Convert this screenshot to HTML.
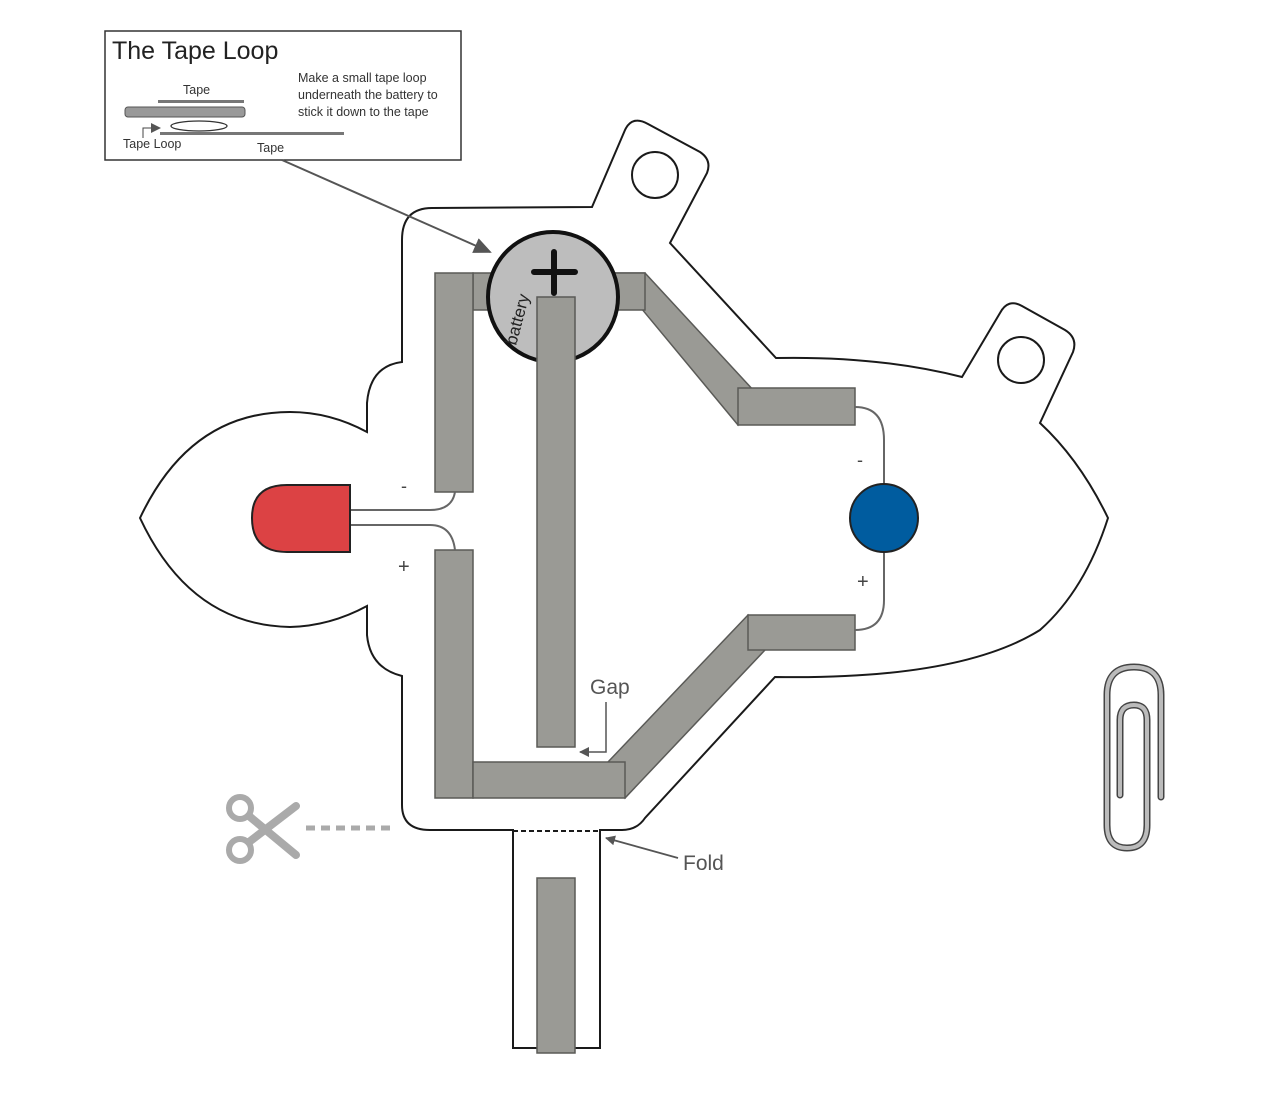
<!DOCTYPE html>
<html><head><meta charset="utf-8"><style>
html,body{margin:0;padding:0;background:#fff;}
svg{display:block;}
text{font-family:"Liberation Sans",sans-serif;}
</style></head><body>
<svg width="1280" height="1094" viewBox="0 0 1280 1094" xmlns="http://www.w3.org/2000/svg">
<defs>
<marker id="ah" markerWidth="10" markerHeight="10" refX="9" refY="5" orient="auto" markerUnits="userSpaceOnUse"><path d="M0,0 L10,5 L0,10 z" fill="#555"/></marker>
<marker id="ahb" markerWidth="18" markerHeight="16" refX="16" refY="8" orient="auto" markerUnits="userSpaceOnUse"><path d="M0,0 L18,8 L0,16 z" fill="#555"/></marker>
</defs>
<rect x="105" y="31" width="356" height="129" fill="#fff" stroke="#333" stroke-width="1.5"/>
<text x="112" y="59" font-size="25" fill="#222">The Tape Loop</text>
<text x="298" y="82" font-size="12.5" fill="#333">Make a small tape loop</text>
<text x="298" y="99" font-size="12.5" fill="#333">underneath the battery to</text>
<text x="298" y="116" font-size="12.5" fill="#333">stick it down to the tape</text>
<text x="183" y="94" font-size="12.5" fill="#333">Tape</text>
<rect x="158" y="100" width="86" height="3" fill="#777"/>
<rect x="125" y="107" width="120" height="10" rx="3" fill="#999" stroke="#555" stroke-width="1"/>
<ellipse cx="199" cy="126" rx="28" ry="5" fill="#fff" stroke="#333" stroke-width="1.3"/>
<rect x="160" y="132" width="184" height="3" fill="#777"/>
<path d="M143,138 V128 H160" fill="none" stroke="#444" stroke-width="1" marker-end="url(#ah)"/>
<text x="123" y="148" font-size="12.5" fill="#333">Tape Loop</text>
<text x="257" y="152" font-size="12.5" fill="#333">Tape</text>
<path d="M402,240 Q402,208 432,208 L592,207 L625,130 Q632,115 648,124 L700,152 Q712,160 707,173 L670,243 L776,358 Q880,356 962,377 L1000,313 Q1008,298 1022,306 L1065,330 Q1078,338 1073,352 L1040,423 Q1080,460 1108,518 Q1085,590 1040,630 Q960,680 775,677 L645,818 Q637,830 622,830 L600,830 L600,1048 L513,1048 L513,830 L430,830 Q402,830 402,805 L402,676 Q370,668 367,635 L367,606 Q330,626 290,627 Q190,625 140,518 Q190,412 290,412 Q330,412 367,432 L367,403 Q370,366 402,362 Z" fill="#fff" stroke="#1a1a1a" stroke-width="2"/>
<line x1="513" y1="831" x2="600" y2="831" stroke="#1a1a1a" stroke-width="2" stroke-dasharray="5,3"/>
<circle cx="655" cy="175" r="23" fill="#fff" stroke="#1a1a1a" stroke-width="2"/>
<circle cx="1021" cy="360" r="23" fill="#fff" stroke="#1a1a1a" stroke-width="2"/>
<g fill="#9a9a95" stroke="#5a5a57" stroke-width="1.5">
<polygon points="612,273 645,273 755,392 738,425"/>
<rect x="473" y="273" width="172" height="37"/>
<rect x="738" y="388" width="117" height="37"/>
<rect x="435" y="273" width="38" height="219"/>
<rect x="435" y="550" width="38" height="248"/>
<polygon points="608,762 748,615 765,650 625,798"/>
<rect x="473" y="762" width="152" height="36"/>
<rect x="748" y="615" width="107" height="35"/>
</g>
<circle cx="553" cy="297" r="65" fill="#bdbdbd" stroke="#111" stroke-width="4"/>
<path d="M554,252 V293 M534,272 H575" stroke="#111" stroke-width="6" stroke-linecap="round"/>
<text transform="translate(516,346) rotate(-75)" font-size="17" fill="#222">battery</text>
<rect x="537" y="297" width="38" height="450" fill="#9a9a95" stroke="#5a5a57" stroke-width="1.5"/>
<rect x="537" y="878" width="38" height="175" fill="#9a9a95" stroke="#5a5a57" stroke-width="1.5"/>
<path d="M350,510 H430 Q452,510 455,492" fill="none" stroke="#666" stroke-width="2"/>
<path d="M350,525 H430 Q452,525 455,550" fill="none" stroke="#666" stroke-width="2"/>
<path d="M350,485 H287 Q252,485 252,518 Q252,552 287,552 H350 Z" fill="#dc4244" stroke="#222" stroke-width="2"/>
<path d="M855,407 Q884,407 884,440 V486" fill="none" stroke="#666" stroke-width="2"/>
<path d="M884,550 V600 Q884,630 855,630" fill="none" stroke="#666" stroke-width="2"/>
<circle cx="884" cy="518" r="34" fill="#005c9f" stroke="#222" stroke-width="2"/>
<text x="401" y="492" font-size="18" fill="#444">-</text>
<text x="398" y="573" font-size="20" fill="#444">+</text>
<text x="857" y="466" font-size="18" fill="#444">-</text>
<text x="857" y="588" font-size="20" fill="#444">+</text>
<line x1="282" y1="160" x2="490" y2="252" stroke="#555" stroke-width="2" marker-end="url(#ahb)"/>
<text x="590" y="694" font-size="21" fill="#555">Gap</text>
<path d="M606,702 V752 H580" fill="none" stroke="#555" stroke-width="1.5" marker-end="url(#ah)"/>
<line x1="678" y1="858" x2="606" y2="838" stroke="#555" stroke-width="1.8" marker-end="url(#ah)"/>
<text x="683" y="870" font-size="21" fill="#555">Fold</text>
<g stroke="#aaa" fill="none" stroke-linecap="round">
<circle cx="240" cy="808" r="11" stroke-width="6"/>
<circle cx="240" cy="850" r="11" stroke-width="6"/>
<line x1="249" y1="816" x2="296" y2="855" stroke-width="8"/>
<line x1="249" y1="842" x2="296" y2="806" stroke-width="8"/>
<line x1="306" y1="828" x2="390" y2="828" stroke-width="5" stroke-dasharray="9,6" stroke-linecap="butt"/>
</g>
<g fill="none" stroke-linecap="round">
<path d="M1161,797 V695 Q1161,667 1134,667 Q1107,667 1107,695 V825 Q1107,848 1127,848 Q1147,848 1147,825 V720 Q1147,705 1134,705 Q1120,705 1120,720 V795" stroke="#444" stroke-width="7"/>
<path d="M1161,797 V695 Q1161,667 1134,667 Q1107,667 1107,695 V825 Q1107,848 1127,848 Q1147,848 1147,825 V720 Q1147,705 1134,705 Q1120,705 1120,720 V795" stroke="#bbb" stroke-width="4"/>
</g>
</svg>
</body></html>
